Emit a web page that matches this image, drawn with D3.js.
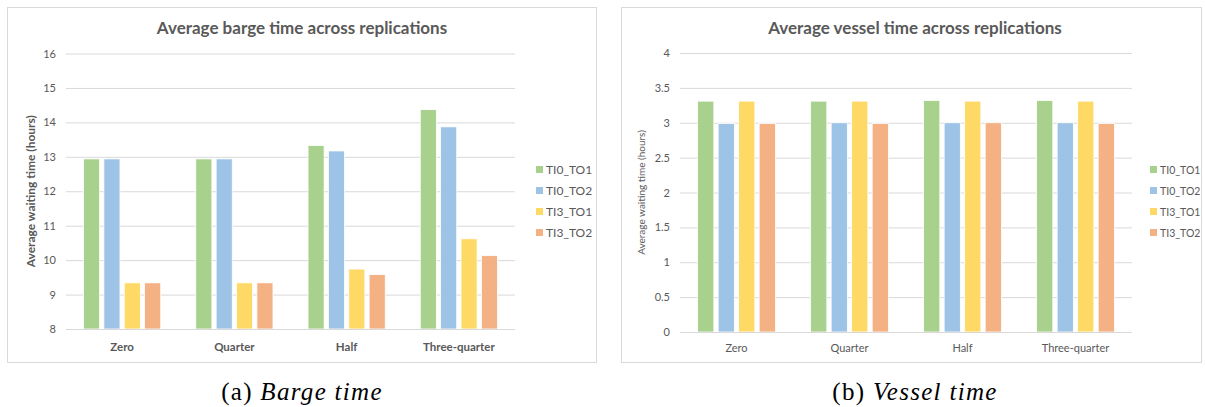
<!DOCTYPE html>
<html>
<head>
<meta charset="utf-8">
<script src="https://cdn.jsdelivr.net/npm/d3@7"></script>
<style>
  body { margin: 0; background: #fff; }
  svg text { font-family: Lato, "Open Sans", sans-serif; }
</style>
</head>
<body>
<svg id="chart" width="1205" height="407"></svg>
<script>
var categories = ['Zero', 'Quarter', 'Half', 'Three-quarter'];
var seriesNames = ['TI0_TO1', 'TI0_TO2', 'TI3_TO1', 'TI3_TO2'];
var seriesColors = ['#a9d18e', '#9dc3e6', '#ffd966', '#f4b183'];

// barge waiting time (hours)
var bargeTI0_TO1 = [12.94, 12.94, 13.33, 14.37];
var bargeTI0_TO2 = [12.94, 12.94, 13.17, 13.87];
var bargeTI3_TO1 = [9.34, 9.34, 9.74, 10.62];
var bargeTI3_TO2 = [9.34, 9.34, 9.58, 10.13];
var bargeTicks = [8, 9, 10, 11, 12, 13, 14, 15, 16];

// vessel waiting time (hours)
var vesselTI0_TO1 = [3.31, 3.31, 3.32, 3.32];
var vesselTI0_TO2 = [2.99, 3.0, 3.0, 3.0];
var vesselTI3_TO1 = [3.31, 3.31, 3.31, 3.31];
var vesselTI3_TO2 = [2.99, 2.99, 3.0, 2.99];
var vesselTicks = [0, 0.5, 1, 1.5, 2, 2.5, 3, 3.5, 4];

var svg = d3.select('#chart');

var drawPanel = function (cfg) {
    var g = svg.append('g');

    // frame
    g.append('rect')
        .attr('x', cfg.box[0] + 0.5).attr('y', cfg.box[1] + 0.5)
        .attr('width', cfg.box[2]).attr('height', cfg.box[3])
        .attr('fill', '#fff').attr('stroke', '#d9d9d9');

    var x0 = d3.scaleBand().domain(categories).range(cfg.xr);
    var x1 = d3.scaleBand().domain(seriesNames)
        .range([0, x0.bandwidth()])
        .paddingInner(0.21).paddingOuter(0.86);
    var y = d3.scaleLinear().domain(cfg.domain).range(cfg.yr);

    // grid
    var axisY = d3.axisLeft(y).tickValues(cfg.ticks)
        .tickSize(-(cfg.xr[1] - cfg.xr[0])).tickPadding(10)
        .tickFormat(d3.format('~g'));
    var ay = g.append('g')
        .attr('transform', 'translate(' + cfg.xr[0] + ',0)')
        .call(axisY);
    ay.select('.domain').remove();
    ay.selectAll('.tick line').attr('stroke', '#d9d9d9');
    ay.selectAll('.tick text')
        .attr('fill', '#595959')
        .style('font-size', cfg.tickSize + 'px');

    // bars
    var rows = categories.map(function (c, i) {
        return { cat: c, vals: cfg.series.map(function (s) { return s[i]; }) };
    });
    var groups = g.selectAll('.grp').data(rows).enter().append('g')
        .attr('class', 'grp')
        .attr('transform', d => 'translate(' + x0(d.cat) + ',0)');
    groups.selectAll('rect')
        .data(d => d.vals.map((v, j) => ({ key: seriesNames[j], v: v, j: j })))
        .enter().append('rect')
        .attr('x', d => x1(d.key))
        .attr('width', x1.bandwidth())
        .attr('y', d => y(d.v))
        .attr('height', d => y(cfg.domain[0]) - y(d.v))
        .attr('fill', d => seriesColors[d.j])
        .attr('stroke', '#fff').attr('stroke-width', 0.8);

    // baseline
    g.append('line')
        .attr('x1', cfg.xr[0]).attr('x2', cfg.xr[1])
        .attr('y1', y(cfg.domain[0]) + 0.5).attr('y2', y(cfg.domain[0]) + 0.5)
        .attr('stroke', '#d9d9d9');

    // category labels
    g.selectAll('.cat').data(categories).enter().append('text')
        .attr('x', d => x0(d) + x0.bandwidth() / 2)
        .attr('y', cfg.catY)
        .attr('text-anchor', 'middle')
        .attr('fill', '#595959')
        .style('font-size', cfg.catSize + 'px')
        .style('font-weight', cfg.catWeight)
        .text(d => d);

    // title
    g.append('text')
        .attr('x', cfg.titleX).attr('y', 34)
        .attr('text-anchor', 'middle')
        .attr('fill', '#595959')
        .style('font-size', '17px').style('font-weight', 'bold')
        .text(cfg.title);

    // y axis title
    g.append('text')
        .attr('transform', 'translate(' + cfg.yTitleX + ',' + ((cfg.yr[0] + cfg.yr[1]) / 2) + ') rotate(-90)')
        .attr('text-anchor', 'middle')
        .attr('fill', '#595959')
        .style('font-size', cfg.yTitleSize + 'px')
        .style('font-weight', cfg.yTitleWeight)
        .text('Average waiting time (hours)');

    // legend
    var lg = g.selectAll('.leg').data(seriesNames).enter().append('g')
        .attr('transform', (d, i) => 'translate(' + cfg.legX + ',' + (cfg.legY + i * 21) + ')');
    lg.append('rect').attr('x', 0).attr('y', -4).attr('width', 7).attr('height', 7)
        .attr('fill', (d, i) => seriesColors[i]);
    lg.append('text').attr('x', 10).attr('y', 4)
        .attr('fill', '#595959')
        .style('font-size', cfg.legSize + 'px')
        .text(d => d);

    // caption
    var cap = g.append('text')
        .attr('x', cfg.titleX).attr('y', 400)
        .attr('text-anchor', 'middle')
        .style('font-family', '"Liberation Serif", "DejaVu Serif", serif')
        .style('font-size', '25px')
        .style('letter-spacing', '1.3px')
        .attr('fill', '#000');
    cap.append('tspan').text(cfg.capLetter + ' ');
    cap.append('tspan').style('font-style', 'italic').text(cfg.capText);
};

drawPanel({
    box: [7, 7, 589, 355],
    xr: [66, 515],
    yr: [329, 53.5],
    domain: [8, 16],
    ticks: bargeTicks,
    series: [bargeTI0_TO1, bargeTI0_TO2, bargeTI3_TO1, bargeTI3_TO2],
    tickSize: 11,
    catY: 351, catSize: 11.5, catWeight: 'bold',
    title: 'Average barge time across replications', titleX: 302,
    yTitleX: 35, yTitleSize: 12, yTitleWeight: 'bold',
    legX: 536, legY: 170, legSize: 12,
    capLetter: '(a)', capText: 'Barge time'
});

drawPanel({
    box: [621, 7, 580, 355],
    xr: [680, 1132],
    yr: [332, 53],
    domain: [0, 4],
    ticks: vesselTicks,
    series: [vesselTI0_TO1, vesselTI0_TO2, vesselTI3_TO1, vesselTI3_TO2],
    tickSize: 11,
    catY: 352, catSize: 11, catWeight: 'normal',
    title: 'Average vessel time across replications', titleX: 915,
    yTitleX: 645, yTitleSize: 10, yTitleWeight: 'normal',
    legX: 1150, legY: 170, legSize: 10.5,
    capLetter: '(b)', capText: 'Vessel time'
});
</script>
</body>
</html>
